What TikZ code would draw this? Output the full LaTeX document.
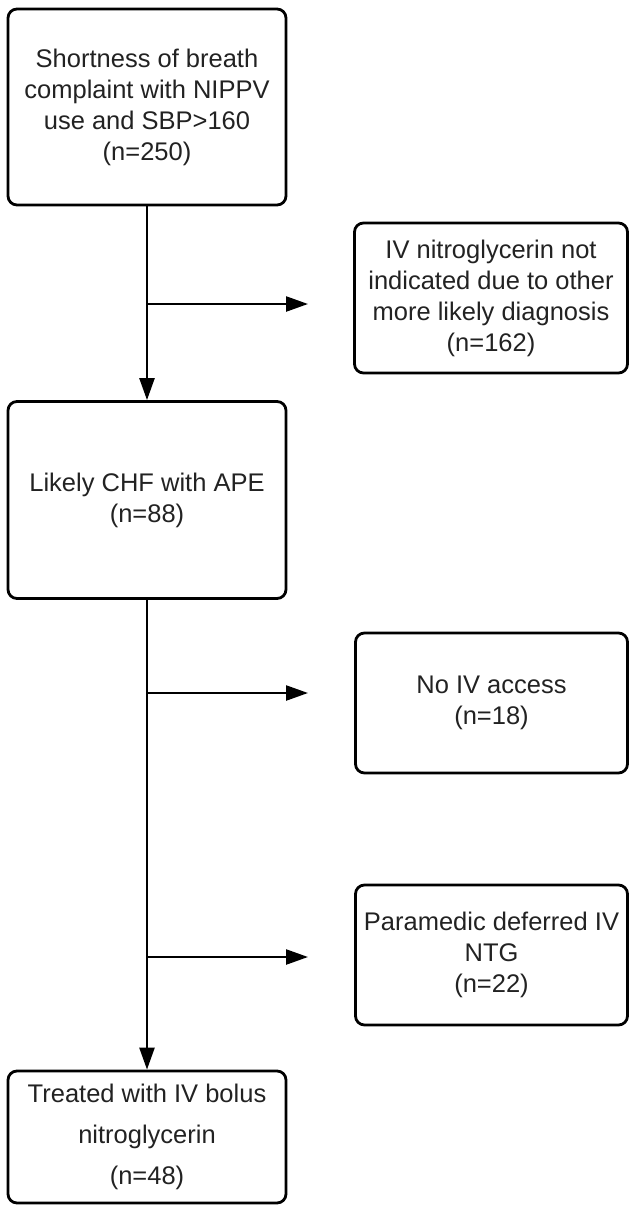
\documentclass[tikz,border=0pt]{standalone}
\usepackage{fontspec}
\setmainfont{Liberation Sans}
\usetikzlibrary{arrows.meta}
\definecolor{txt}{HTML}{222222}
\begin{document}
\begin{tikzpicture}[x=1pt,y=-1pt,
  box/.style={draw=black,line width=2.8pt,rounded corners=9pt,align=center,
    text=txt,inner sep=0pt,font=\fontsize{25.5}{31}\selectfont},
  conn/.style={line width=2.4pt,draw=black},
  arr/.style={conn,-{Triangle[length=22pt,width=15pt]}}]
\useasboundingbox (0,0) rectangle (629,1208);
\node[box,minimum width=278pt,minimum height=196pt] (b1) at (147,107)
  {Shortness of breath\\complaint with NIPPV\\use and SBP>160\\(n=250)};
\node[box,minimum width=273pt,minimum height=150pt] (b2) at (491,298)
  {IV nitroglycerin not\\indicated due to other\\more likely diagnosis\\(n=162)};
\node[box,minimum width=278pt,minimum height=197pt] (b3) at (147,500)
  {Likely CHF with APE\\(n=88)};
\node[box,minimum width=272pt,minimum height=140pt] (b4) at (491.5,703)
  {No IV access\\(n=18)};
\node[box,minimum width=272pt,minimum height=140pt] (b5) at (491.5,955)
  {Paramedic deferred IV\\NTG\\(n=22)};
\node[box,minimum width=278pt,minimum height=132pt,font=\fontsize{25.5}{41}\selectfont] (b6) at (147,1137)
  {Treated with IV bolus\\nitroglycerin\\(n=48)};
\coordinate (j1) at (147,304);
\coordinate (e1) at (308,304);
\coordinate (j2) at (147,693);
\coordinate (e2) at (308,693);
\coordinate (j3) at (147,957);
\coordinate (e3) at (308,957);
\draw[arr] (b1.south) -- (b3.north);
\draw[arr] (j1) -- (e1);
\draw[arr] (b3.south) -- (b6.north);
\draw[arr] (j2) -- (e2);
\draw[arr] (j3) -- (e3);
\end{tikzpicture}
\end{document}
